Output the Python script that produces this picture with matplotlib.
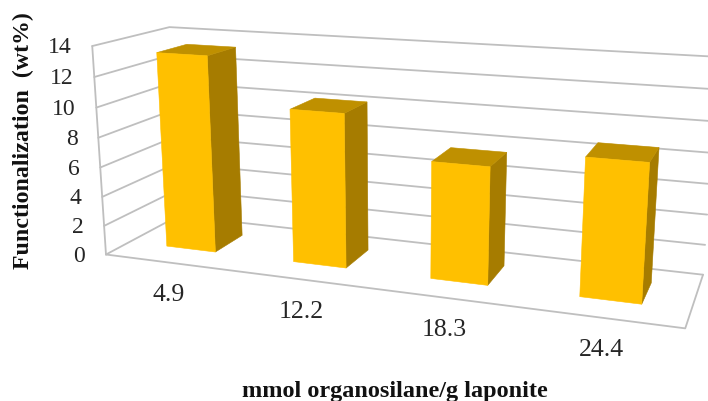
import numpy as np
import matplotlib
matplotlib.use("Agg")
import matplotlib.pyplot as plt
from matplotlib.patches import Polygon

categories = ["4.9", "12.2", "18.3", "24.4"]
functionalization = [13.3, 10.2, 7.6, 8.7]
y_ticks = [0, 2, 4, 6, 8, 10, 12, 14]
y_max = 14

# Camera calibration: box corners (across, depth, height/y_max) -> canvas pixels
box_points = np.array([
    (0, 0, 0), (0, 0, 1), (0, 1, 1), (0, 1, 0),
    (1, 1, 0), (1, 0, 0), (1, 1, 1),
], float)
canvas_points = np.array([
    (106.7, 254.3), (91.7, 45.7), (170.0, 27.3), (178.0, 216.0),
    (703.3, 274.0), (685.0, 329.0), (718.0, 57.0),
], float)


def fit_camera(world, image):
    rows = []
    for (a, b, c), (x, y) in zip(world, image):
        rows.append([a, b, c, 1, 0, 0, 0, 0, -x * a, -x * b, -x * c, -x])
        rows.append([0, 0, 0, 0, a, b, c, 1, -y * a, -y * b, -y * c, -y])
    return np.linalg.svd(np.array(rows))[2][-1].reshape(3, 4)


CAMERA = fit_camera(box_points, canvas_points)


def project(across, depth, value):
    h = CAMERA @ np.array([across, depth, value / y_max, 1.0])
    return h[0] / h[2], h[1] / h[2]


plt.rcParams["font.family"] = ["Liberation Serif", "DejaVu Serif"]
fig = plt.figure(figsize=(7.08, 4.01), dpi=100)
ax = fig.add_axes([0, 0, 1, 1])
ax.set_xlim(0, 708)
ax.set_ylim(401, 0)
ax.axis("off")

GRID = "#BFBFBF"
FRONT, SIDE, TOP = "#FFC000", "#A67C00", "#BF9000"
BAR_WIDTH = 0.098
DEPTH_NEAR, DEPTH_FAR = 0.31, 0.72


def wire(points, lw=1.3):
    xs, ys = zip(*[project(*p) for p in points])
    ax.plot(xs, ys, color=GRID, lw=lw, solid_capstyle="round", zorder=1)


# Walls and floor
for tick in y_ticks:
    wire([(0, 0, tick), (0, 1, tick), (1, 1, tick)])
wire([(0, 0, 0), (0, 0, y_max)])
wire([(0, 0, 0), (1, 0, 0), (1, 1, 0)])

# Columns, drawn left to right
for i, value in enumerate(functionalization):
    centre = (i + 0.5) / len(categories)
    u0, u1 = centre - BAR_WIDTH / 2, centre + BAR_WIDTH / 2
    d0, d1 = DEPTH_NEAR, DEPTH_FAR
    faces = [
        (SIDE, [(u1, d0, 0), (u1, d1, 0), (u1, d1, value), (u1, d0, value)]),
        (TOP, [(u0, d0, value), (u1, d0, value), (u1, d1, value), (u0, d1, value)]),
        (FRONT, [(u0, d0, 0), (u1, d0, 0), (u1, d0, value), (u0, d0, value)]),
    ]
    for colour, corners in faces:
        ax.add_patch(Polygon([project(*c) for c in corners], closed=True,
                             facecolor=colour, edgecolor=colour, lw=0.4, zorder=2))

# Value axis labels beside the front edge
for tick in y_ticks:
    x, y = project(0, 0, tick)
    ax.annotate(str(tick), (x, y), xytext=(-15, -1.2), textcoords="offset points",
                ha="right", va="center", fontsize=17, color="#262626")

# Category labels below the front floor edge
for i, label in enumerate(categories):
    x, y = project((i + 0.5) / len(categories), 0, 0)
    ax.annotate(label, (x, y), xytext=(0, -23.5), textcoords="offset points",
                ha="center", va="center", fontsize=18.5, color="#262626")

ax.text(395, 391, "mmol organosilane/g laponite", ha="center", va="center",
        fontsize=17.5, fontweight="bold", color="#111111")
ax.text(23, 141, "Functionalization  (wt%)", ha="center", va="center",
        rotation=90, fontsize=17.2, fontweight="bold", color="#111111")

fig.savefig("out.png", dpi=100)
